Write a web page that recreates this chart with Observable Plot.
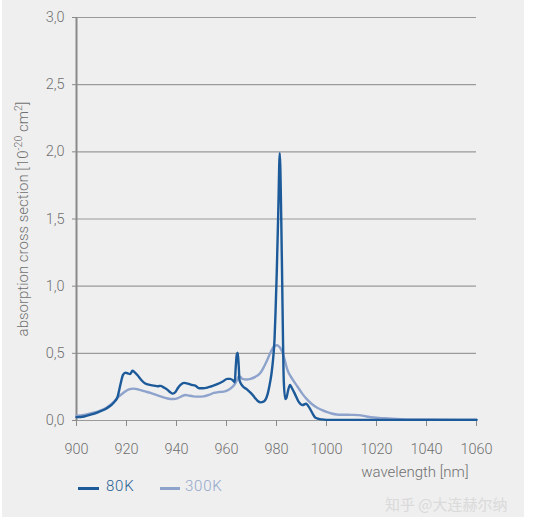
<!DOCTYPE html>
<html>
<head>
<meta charset="utf-8">
<script src="https://cdn.jsdelivr.net/npm/d3@7"></script>
<script src="https://cdn.jsdelivr.net/npm/@observablehq/plot@0.6"></script>
<style>
  html, body { margin: 0; padding: 0; background: #ffffff; }
  #panel { position: absolute; left: 2px; top: 0; width: 522px; height: 517px; background: #efefef; }
  #chart { position: absolute; left: 0; top: 0; }
  .leg { position: absolute; font-family: Roboto, sans-serif; font-weight: 300; font-size: 15px; letter-spacing: 0.8px; top: 477px; }
  .sw { position: absolute; height: 3px; top: 487px; }
  #wm { position: absolute; left: 385px; top: 493px; font-family: "Noto Sans CJK SC", sans-serif; font-size: 15px; color: #dadada; }
</style>
</head>
<body>
<div id="panel"></div>
<div id="chart"></div>
<div class="sw" style="left:78px;width:21px;background:#1c5a99"></div>
<div class="leg" style="left:106px;color:#2a5f95">80K</div>
<div class="sw" style="left:160px;width:20px;background:#8ea3cc"></div>
<div class="leg" style="left:185px;color:#93a6cb">300K</div>
<div id="wm">知乎 @大连赫尔纳</div>
<script>
const xTicks = [900, 920, 940, 960, 980, 1000, 1020, 1040, 1060];
const yTicks = [0, 0.5, 1.0, 1.5, 2.0, 2.5, 3.0];

const wl80 = [900, 903, 906, 909, 912, 915, 916.5, 917.6, 918.6, 919.6, 920.6, 921.4, 922.4, 923.2, 924.5, 926, 927.5, 929.3, 931, 932.5, 933.6, 935, 936.3, 937.5, 938.5, 939.5, 940.5, 941.6, 943, 944.5, 946, 947.5, 949, 950.5, 952.3, 954, 956.3, 958.5, 960.3, 961.5, 962.5, 963.3, 963.7, 964.1, 964.5, 964.9, 965.2, 966.3, 968.3, 970, 971.3, 972.5, 973.6, 974.8, 975.6, 976.5, 977.2, 978, 978.6, 979.2, 979.6, 980.1, 980.7, 981.3, 981.9, 982.3, 982.6, 982.9, 983.5, 984.0, 984.6, 985.4, 986.2, 987.3, 988.7, 990.5, 991.8, 993.3, 994.5, 995.6, 998, 1000, 1010, 1030, 1060];
const abs80 = [0.025, 0.03, 0.045, 0.065, 0.09, 0.135, 0.18, 0.27, 0.34, 0.355, 0.35, 0.345, 0.37, 0.36, 0.335, 0.3, 0.275, 0.265, 0.26, 0.255, 0.258, 0.245, 0.23, 0.21, 0.2, 0.21, 0.24, 0.265, 0.28, 0.275, 0.265, 0.26, 0.24, 0.24, 0.245, 0.255, 0.27, 0.29, 0.31, 0.31, 0.3, 0.285, 0.4, 0.49, 0.505, 0.4, 0.3, 0.26, 0.23, 0.2, 0.17, 0.145, 0.135, 0.14, 0.155, 0.2, 0.26, 0.35, 0.45, 0.6, 0.8, 1.1, 1.55, 1.99, 1.5, 1.0, 0.6, 0.3, 0.16, 0.17, 0.22, 0.265, 0.24, 0.2, 0.145, 0.115, 0.125, 0.09, 0.05, 0.02, 0.008, 0.005, 0.005, 0.005, 0.005];

const wl300 = [900, 903, 906, 909, 912, 915, 917, 918.7, 920.7, 922.9, 924.6, 927, 929.6, 931.6, 933.6, 935.6, 937.6, 939, 940.3, 942, 943.6, 945, 946.7, 948.8, 950.9, 953, 954.9, 957, 958.9, 961, 962.9, 964.2, 964.9, 965.5, 966.3, 968, 969.6, 971.5, 973.6, 975, 976.3, 977.7, 979.2, 980.3, 981.3, 982.3, 983.3, 984.3, 986.3, 988.3, 990.3, 992.3, 994, 996.3, 998.5, 1000.3, 1002, 1004, 1007, 1010, 1013, 1016, 1019, 1022, 1026, 1030, 1040, 1060];
const abs300 = [0.035, 0.042, 0.055, 0.07, 0.095, 0.14, 0.18, 0.205, 0.23, 0.237, 0.232, 0.218, 0.205, 0.192, 0.18, 0.168, 0.16, 0.16, 0.165, 0.18, 0.19, 0.185, 0.18, 0.178, 0.18, 0.19, 0.205, 0.212, 0.215, 0.23, 0.26, 0.3, 0.33, 0.325, 0.31, 0.305, 0.31, 0.325, 0.355, 0.4, 0.45, 0.51, 0.555, 0.56, 0.545, 0.51, 0.45, 0.38, 0.31, 0.255, 0.2, 0.155, 0.125, 0.095, 0.075, 0.062, 0.052, 0.045, 0.043, 0.042, 0.04, 0.03, 0.022, 0.018, 0.013, 0.01, 0.007, 0.006];

const s80 = wl80.map((w, i) => ({w, a: abs80[i]}));
const s300 = wl300.map((w, i) => ({w, a: abs300[i]}));
const fmtY = d => d.toFixed(1).replace(".", ",");
const fmtX = d => String(d);

const chart = Plot.plot({
  width: 535,
  height: 480,
  marginLeft: 76,
  marginRight: 59,
  marginTop: 17,
  marginBottom: 60,
  style: {fontFamily: "Roboto, sans-serif", fontWeight: 300, fontSize: "14px", color: "#707070", background: "transparent", overflow: "visible"},
  x: {domain: [900, 1060]},
  y: {domain: [0, 3]},
  marks: [
    Plot.gridY(yTicks, {stroke: "#9a9a9a", strokeOpacity: 1, strokeWidth: 1.2}),
    Plot.axisY(yTicks, {tickSize: 4, tickPadding: 8, tickFormat: fmtY, stroke: "#8a8a8a", label: "absorption cross section [10-20 cm2]", labelAnchor: "center", labelArrow: "none", labelOffset: 59, fontSize: 14.5}),
    Plot.axisX(xTicks, {tickSize: 6, tickPadding: 17, tickFormat: fmtX, stroke: "#8a8a8a", label: null, fontSize: 14.5}),
    Plot.ruleX([900], {stroke: "#8a8a8a", strokeWidth: 2}),
    Plot.text(["wavelength [nm]"], {frameAnchor: "bottom-right", dx: -8, dy: 56, fill: "#707070", fontSize: 15, textAnchor: "end"}),
    Plot.line(s300, {x: "w", y: "a", stroke: "#8ea3cc", strokeWidth: 2.4, curve: "monotone-x"}),
    Plot.line(s80, {x: "w", y: "a", stroke: "#1c5a99", strokeWidth: 2.4, curve: "monotone-x"})
  ]
});
document.getElementById("chart").appendChild(chart);
// superscripts in the y-axis title
d3.select(chart).selectAll("text").filter(function () { return this.textContent === "absorption cross section [10-20 cm2]"; })
  .attr("font-size", 15)
  .each(function () {
    const t = d3.select(this);
    t.text("");
    t.append("tspan").text("absorption cross section [10");
    t.append("tspan").attr("baseline-shift", "super").attr("font-size", 10.5).text("-20");
    t.append("tspan").text(" cm");
    t.append("tspan").attr("baseline-shift", "super").attr("font-size", 10.5).text("2");
    t.append("tspan").text("]");
  });
</script>
</body>
</html>
